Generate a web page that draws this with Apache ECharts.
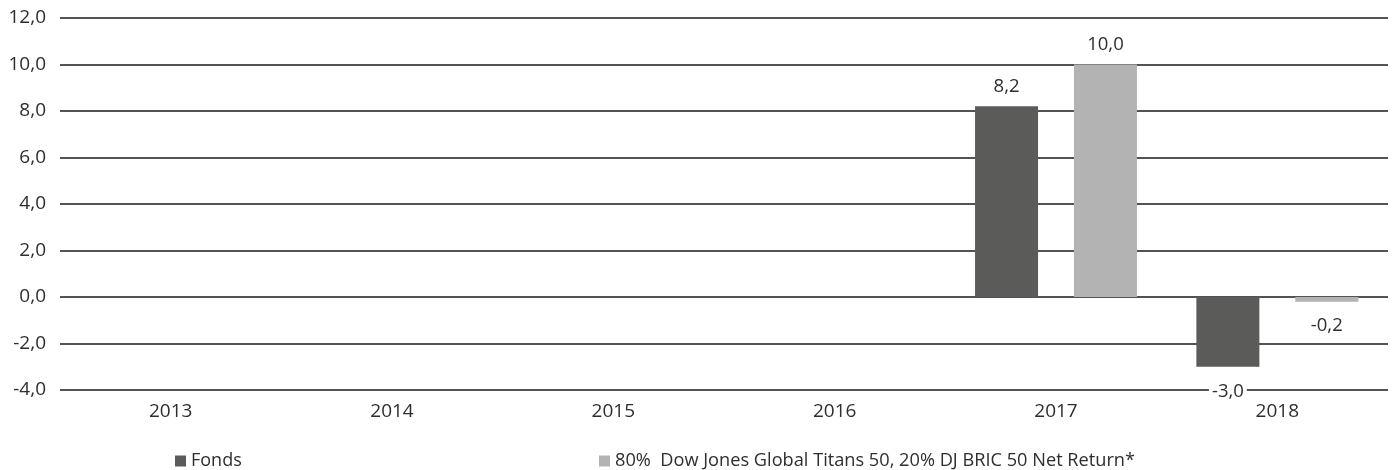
<!DOCTYPE html>
<html>
<head>
<meta charset="utf-8">
<script src="https://cdn.jsdelivr.net/npm/echarts@6/dist/echarts.min.js"></script>
<style>
  html, body { margin: 0; padding: 0; background: #fff; }
  #chart { width: 1395px; height: 470px; }
</style>
</head>
<body>
<div id="chart"></div>
<script>
// jahre und werte aus der grafik
var categories = ['2013', '2014', '2015', '2016', '2017', '2018'];
var fondsValues = [null, null, null, null, 8.2, -3.0];
var benchValues = [null, null, null, null, 10.0, -0.2];
var yTicks = { min: -4, max: 12, interval: 2 };

var fontFam = '"Open Sans", "Noto Sans", sans-serif';
var textCol = '#2e2e2e';

function fmt(v) {
    return v.toFixed(1).replace('.', ',');
}

// negative balken -> beschriftung unten
function toItems(arr) {
    return arr.map(function (v) {
        if (v === null) return null;
        return {
            value: v,
            label: v < 0 ? { position: 'bottom', distance: 15 } : { position: 'top', distance: 10 }
        };
    });
}

var barLabel = {
    show: true,
    color: textCol,
    fontFamily: fontFam,
    fontSize: 18.5,
    backgroundColor: '#fff',
    padding: [0, 3],
    formatter: function (p) { return fmt(p.value); }
};

var chart = echarts.init(document.getElementById('chart'));
chart.setOption({
    animation: false,
    grid: { left: 60, right: 7, top: 18, bottom: 80, containLabel: false },
    legend: [
        {
            data: ['Fonds'],
            left: 170, top: 447,
            icon: 'rect', itemWidth: 11, itemHeight: 11, itemGap: 4,
            textStyle: { color: textCol, fontFamily: fontFam, fontSize: 18 }
        },
        {
            data: ['80%  Dow Jones Global Titans 50, 20% DJ BRIC 50 Net Return*'],
            left: 594, top: 447,
            icon: 'rect', itemWidth: 11, itemHeight: 11, itemGap: 4,
            textStyle: { color: textCol, fontFamily: fontFam, fontSize: 18.2 }
        }
    ],
    xAxis: {
        type: 'category',
        data: categories,
        axisLine: { show: false },
        axisTick: { show: false },
        axisLabel: { color: textCol, fontFamily: fontFam, fontSize: 19, margin: 12 }
    },
    yAxis: {
        type: 'value',
        min: yTicks.min, max: yTicks.max, interval: yTicks.interval,
        axisLine: { show: false },
        axisTick: { show: false },
        axisLabel: {
            color: textCol, fontFamily: fontFam, fontSize: 19, margin: 14,
            formatter: function (v) { return fmt(v); }
        },
        splitLine: { lineStyle: { color: '#1a1a1a', width: 1.5 } }
    },
    series: [
        {
            name: 'Fonds',
            type: 'bar',
            data: toItems(fondsValues),
            barWidth: 63,
            barGap: '57%',
            itemStyle: { color: '#5b5b5a' },
            label: barLabel,
            z: 3
        },
        {
            name: '80%  Dow Jones Global Titans 50, 20% DJ BRIC 50 Net Return*',
            type: 'bar',
            data: toItems(benchValues),
            barWidth: 63,
            itemStyle: { color: '#b3b3b3' },
            label: barLabel,
            z: 3
        }
    ]
});
</script>
</body>
</html>
